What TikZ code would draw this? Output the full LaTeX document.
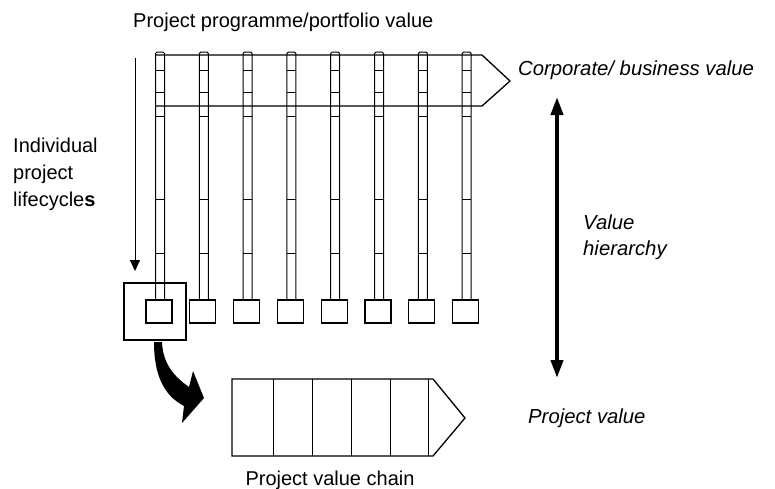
\documentclass[tikz,border=0pt]{standalone}
\usepackage{fontspec}
\setmainfont{Liberation Sans}
\usetikzlibrary{arrows.meta}
\begin{document}
\begin{tikzpicture}[x=1pt,y=-1pt,
  lbl/.style={inner sep=0pt,font=\fontsize{20}{22}\selectfont},
  ilbl/.style={inner sep=0pt,font=\fontsize{20.3}{22}\selectfont\itshape},
  bar/.style={draw,line width=1pt,rounded corners=1.5pt},
  sq/.style={draw,line width=1.2pt,minimum width=26pt,minimum height=23pt,inner sep=0pt},
  band/.style={draw,line width=1.3pt},
  tick/.style={line width=1pt}]
\useasboundingbox (0,0) rectangle (775,488);
% portfolio value chevron
\draw[band] (155,55) -- (482,55) -- (510,81) -- (482,106) -- (155,106);
% bars and squares
\foreach \i in {0,...,7}{
  \pgfmathsetmacro{\cx}{160+43.8*\i}
  \draw[bar] (\cx-4.5,300) -- (\cx-4.5,52) -- (\cx+4.5,52) -- (\cx+4.5,300);
  \foreach \t in {70,92,116,199,253}{
    \draw[tick] (\cx-4.5,\t) -- (\cx+4.5,\t);
  }
  \node[sq] (s\i) at (\cx-1,311.5) {};
}
% highlight box
\node[draw,line width=2.6pt,minimum width=62pt,minimum height=57pt,inner sep=0pt] (hb) at (155,311.5) {};
% individual lifecycle arrow
\coordinate (la) at (135,58);
\coordinate (lb) at (135,271);
\draw[line width=0.9pt,-{Triangle[length=11pt,width=10pt]}] (la) -- (lb);
% curved thick arrow
\fill (154,342) .. controls (154,377) and (165,396) .. (184,406) -- (182,423) -- (204,398) -- (193,371) -- (189,387) .. controls (175,377) and (163,365) .. (162,342) -- cycle;
% project value chain
\draw[line width=1.3pt] (232,379) -- (433,379) -- (465,418) -- (433,456) -- (232,456) -- cycle;
\foreach \x in {273,312,351,390,428}{
  \draw[line width=1pt] (\x,379) -- (\x,456);
}
% value hierarchy double arrow
\coordinate (va) at (557,97);
\coordinate (vb) at (557,378);
\draw[line width=4pt,{Triangle[length=18pt,width=12pt]}-{Triangle[length=18pt,width=12pt]}] (va) -- (vb);
% labels
\node[lbl,anchor=base west] (t1) at (133,27) {Project programme/portfolio value};
\node[ilbl,anchor=base west] (t2) at (518,75) {Corporate/ business value};
\node[lbl,anchor=base west] (t3) at (13,152) {Individual};
\node[lbl,anchor=base west] (t4) at (13,179) {project};
\node[lbl,anchor=base west] (t5) at (13,206) {lifecycle\textbf{s}};
\node[ilbl,anchor=base west] (t6) at (583,229) {Value};
\node[ilbl,anchor=base west] (t7) at (583,255) {hierarchy};
\node[ilbl,anchor=base west] (t8) at (528,423) {Project value};
\node[lbl,anchor=base] (t9) at (330,485) {Project value chain};
\end{tikzpicture}
\end{document}
